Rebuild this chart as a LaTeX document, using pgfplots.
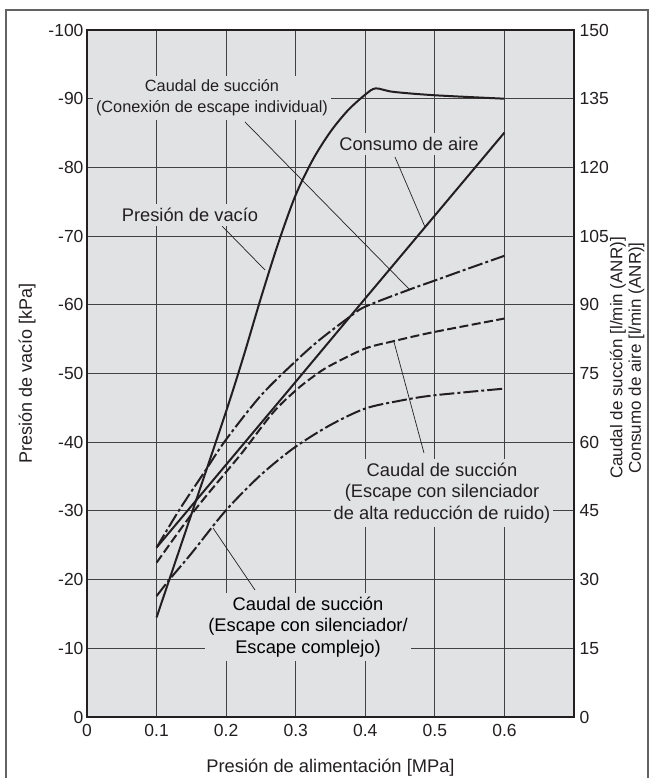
\documentclass[border=0pt]{standalone}
\usepackage{fontspec}
\setmainfont{Liberation Sans}
\usepackage{pgfplots}
\pgfplotsset{compat=1.18}

\definecolor{bgplot}{HTML}{E1E2E4}
\definecolor{ink}{HTML}{231F20}

\pgfplotsset{
  curve/.style={line width=2pt, ink, line join=round, line cap=butt},
  dashdot/.style={curve, dash pattern=on 15pt off 3pt on 3pt off 3pt},
  longdash/.style={curve, dash pattern=on 9pt off 3.5pt},
}
\newcommand{\tck}{\fontsize{17.5}{21}\selectfont}
\newcommand{\lbl}{\fontsize{18.3}{21.5}\selectfont}

\begin{document}
\begin{tikzpicture}[x=1pt,y=1pt]
\useasboundingbox (0,0) rectangle (653,778);
% marco exterior
\draw[line width=1.2pt, ink!70] (6,-5) -- (6,768) -- (648,768) -- (648,-5);

% eje izquierdo: presion de vacio
\begin{axis}[
  at={(330.5pt,404.5pt)}, anchor=center,
  scale only axis, width=487pt, height=687pt,
  xmin=0, xmax=0.7, ymin=-100, ymax=0, y dir=reverse,
  axis background/.style={fill=bgplot},
  xtick={0,0.1,0.2,0.3,0.4,0.5,0.6},
  xticklabels={0,0.1,0.2,0.3,0.4,0.5,0.6},
  ytick={-100,-90,-80,-70,-60,-50,-40,-30,-20,-10,0},
  yticklabels={-100,-90,-80,-70,-60,-50,-40,-30,-20,-10,0},
  xtick pos=bottom, ytick pos=left,
  grid=major,
  major grid style={line width=1pt, ink!85},
  axis line style={line width=1.4pt, ink},
  tick style={draw=none},
  ticklabel style={font=\tck, text=ink},
  xticklabel style={yshift=-4pt},
  clip=false,
]
% Presion de vacio [kPa]
\addplot[curve, smooth, tension=0.5] coordinates {
  (0.1,-14.5) (0.15,-29.5) (0.2,-44.5) (0.225,-52.5) (0.25,-61)
  (0.275,-69) (0.3,-76) (0.325,-81.2) (0.35,-85.2) (0.375,-88.3)
  (0.4,-90.6) (0.415,-91.5) (0.44,-91) (0.5,-90.5) (0.6,-90)
};
\end{axis}

% eje derecho: caudal de succion / consumo de aire
\begin{axis}[
  at={(330.5pt,404.5pt)}, anchor=center,
  scale only axis, width=487pt, height=687pt,
  xmin=0, xmax=0.7, ymin=0, ymax=150,
  axis x line=none, axis y line*=right,
  ytick={0,15,30,45,60,75,90,105,120,135,150},
  yticklabels={0,15,30,45,60,75,90,105,120,135,150},
  axis line style={line width=1.4pt, ink},
  tick style={draw=none},
  ticklabel style={font=\tck, text=ink},
  yticklabel style={xshift=2pt},
]
% Consumo de aire
\addplot[curve] coordinates {
  (0.1,37.0) (0.2,55.1) (0.3,73.2) (0.4,91.4) (0.5,109.5) (0.6,127.6)
};
% Caudal de succion (conexion de escape individual)
\addplot[dashdot, smooth, tension=0.5] coordinates {
  (0.1,37.0) (0.133,45.3) (0.171,54) (0.2,60.6) (0.25,70.2) (0.3,77.7)
  (0.334,82.3) (0.377,87.3) (0.4,89.6) (0.463,93.3) (0.5,95.3)
  (0.544,97.7) (0.6,100.7)
};
% Caudal de succion (silenciador de alta reduccion de ruido)
\addplot[longdash, smooth, tension=0.5] coordinates {
  (0.1,33.7) (0.152,44.6) (0.2,53.5) (0.225,58.1) (0.267,66.4)
  (0.3,71.3) (0.325,74.3) (0.348,76.6) (0.399,80.4) (0.439,82.0)
  (0.497,84.0) (0.6,87.0)
};
% Caudal de succion (silenciador / escape complejo)
\addplot[dashdot, smooth, tension=0.5] coordinates {
  (0.1,26.4) (0.119,30.1) (0.15,35.7) (0.199,45) (0.248,52.6) (0.297,58.7)
  (0.348,63.6) (0.399,67.3) (0.448,69) (0.497,70.2) (0.6,71.7)
};
\end{axis}

% titulos de ejes
\node[font=\lbl, text=ink] at (330.5,10) {Presión de alimentación [MPa]};
\node[font=\fontsize{18}{21}\selectfont, text=ink, rotate=90] at (27,404.5)
  {Presión de vacío [kPa]};
\node[font=\fontsize{17}{18.5}\selectfont, text=ink, rotate=90, align=center]
  at (627,420) {Caudal de succión [l/min (ANR)]\\Consumo de aire [l/min (ANR)]};

% rotulos de curvas
\tikzset{tag/.style={fill=bgplot, text=ink, inner xsep=3pt, inner ysep=4pt, align=center}}
\draw[line width=0.7pt, ink] (245,656) -- (410,488);
\draw[line width=0.7pt, ink] (222,552) -- (265,508);
\draw[line width=0.7pt, ink] (395,621) -- (425,551);
\draw[line width=0.7pt, ink] (394,436) -- (424,325);
\draw[line width=0.7pt, ink] (213,250) -- (255,188);
\node[tag, font=\fontsize{16.3}{21}\selectfont] at (212,680)
  {Caudal de succión\\(Conexión de escape individual)};
\node[tag, font=\lbl] at (190,563) {Presión de vacío};
\node[tag, font=\lbl] at (409,634) {Consumo de aire};
\node[tag, font=\lbl] at (442,285)
  {Caudal de succión\\(Escape con silenciador\\de alta reducción de ruido)};
\node[tag, font=\lbl, text=black] at (308,151)
  {Caudal de succión\\(Escape con silenciador/\\Escape complejo)};
\end{tikzpicture}
\end{document}
